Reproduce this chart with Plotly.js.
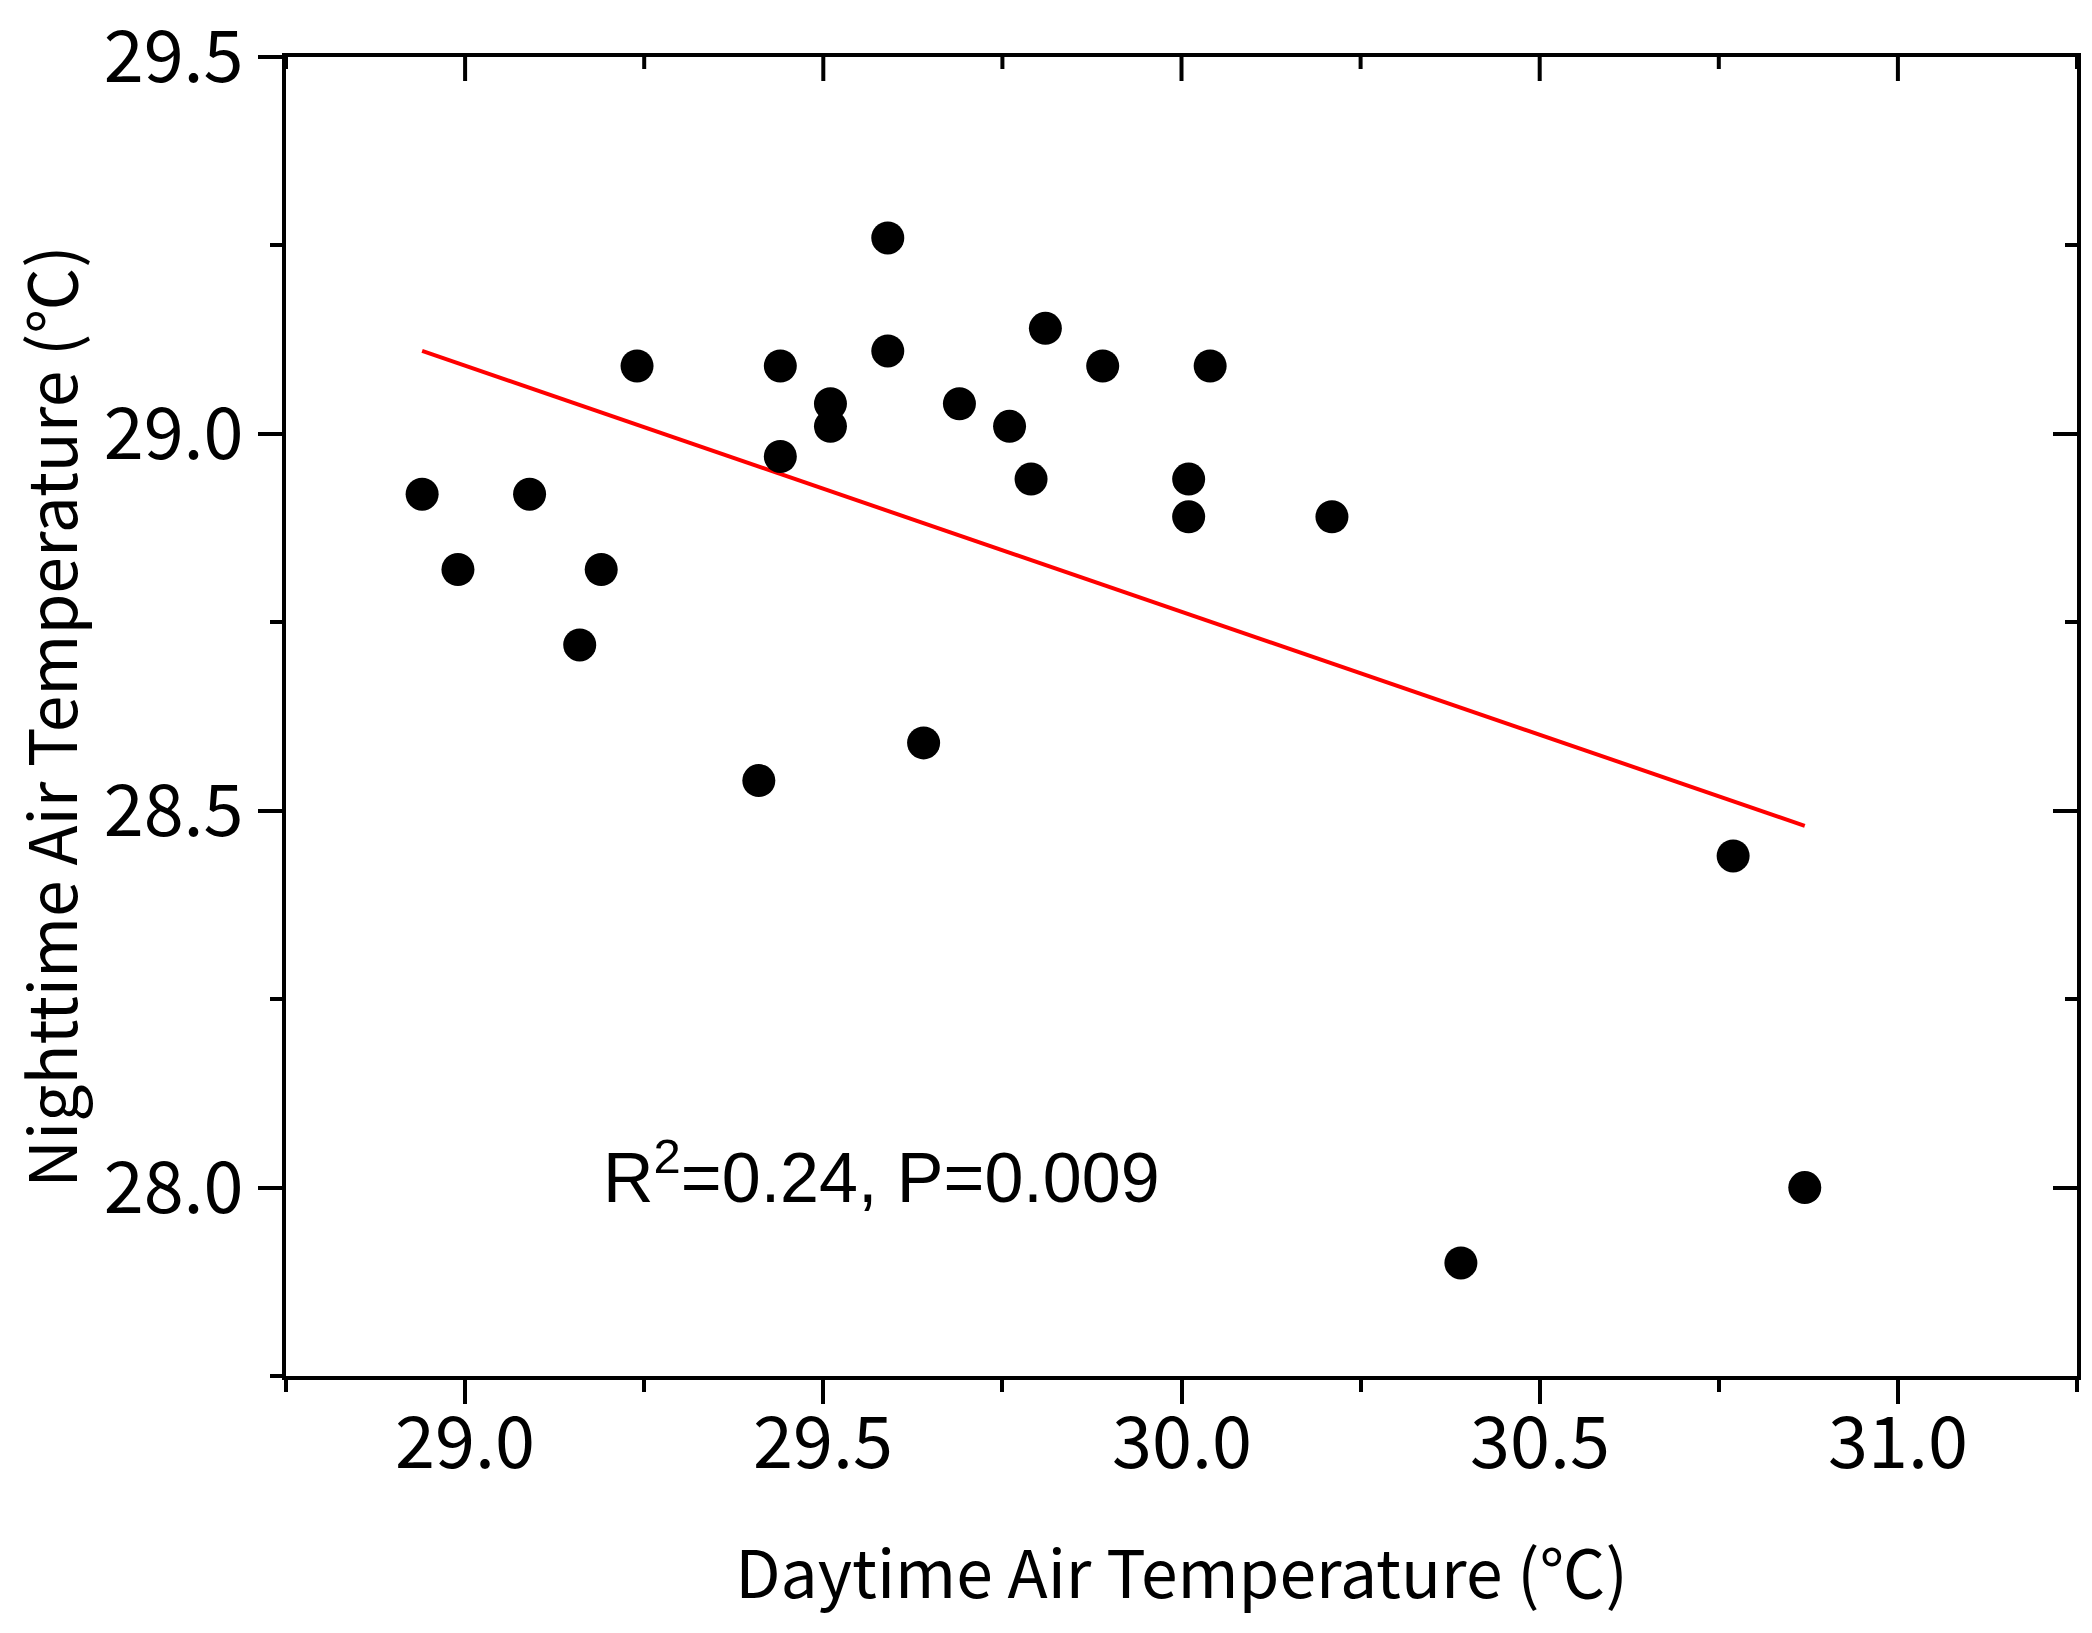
<!DOCTYPE html>
<html>
<head>
<meta charset="utf-8">
<script src="https://cdn.plot.ly/plotly-3.0.1.min.js"></script>
<style>
  html, body { margin: 0; padding: 0; background: #fff; }
  #chart { width: 2092px; height: 1633px; }
</style>
</head>
<body>
<div id="chart"></div>
<script>
"use strict";

// values
var dayTemp = [28.94, 28.99, 29.09, 29.19, 29.16, 29.24, 29.41, 29.44, 29.44, 29.51,
               29.51, 29.59, 29.59, 29.64, 29.69, 29.76, 29.79, 29.81, 29.89, 30.01,
               30.01, 30.04, 30.21, 30.39, 30.77, 30.87];
var nightTemp = [28.92, 28.82, 28.92, 28.82, 28.72, 29.09, 28.54, 29.09, 28.97, 29.04,
                 29.01, 29.26, 29.11, 28.59, 29.04, 29.01, 28.94, 29.14, 29.09, 28.94,
                 28.89, 29.09, 28.89, 27.90, 28.44, 28.00];

// ends of the fitted line
var fitX = [28.94, 30.87];
var fitY = [29.11, 28.48];

var xTicks = [29.0, 29.5, 30.0, 30.5, 31.0];
var xMinorTicks = [28.75, 29.25, 29.75, 30.25, 30.75, 31.25];
var yTicks = [28.0, 28.5, 29.0, 29.5];
var statText = "R<sup>2</sup>=0.24, P=0.009";

var tickFont = { family: "Noto Sans CJK KR, Noto Sans, sans-serif", size: 72, color: "#000" };
var titleFont = { family: "Noto Sans CJK KR, Noto Sans, sans-serif", size: 66, color: "#000" };

var xRange = [28.75, 31.25];
var yRange = [27.75, 29.5];

var data = [
    {
        x: fitX,
        y: fitY,
        type: "scatter",
        mode: "lines",
        line: { color: "#ff0000", width: 4 },
        hoverinfo: "skip"
    },
    {
        x: dayTemp,
        y: nightTemp,
        type: "scatter",
        mode: "markers",
        marker: { color: "#000", size: 33 }
    },
    // invisible copy on a see-through second subplot: right tick axis
    {
        x: fitX,
        y: fitY,
        xaxis: "x2",
        yaxis: "y2",
        type: "scatter",
        mode: "markers",
        marker: { opacity: 0 },
        hoverinfo: "skip"
    }
];

// x tick labels as annotations so they sit as close to the axis as in the original
var annotations = xTicks.map(function (v) {
    return {
        x: v,
        y: 0,
        xref: "x",
        yref: "paper",
        yanchor: "middle",
        yshift: -60,
        text: v.toFixed(1),
        showarrow: false,
        font: tickFont
    };
});
annotations.push({
    x: 29.19,
    y: 28.02,
    xref: "x",
    yref: "y",
    xanchor: "left",
    yanchor: "middle",
    text: statText,
    showarrow: false,
    font: { family: "Liberation Sans, Arial, sans-serif", size: 70, color: "#000" }
});

// inward ticks hanging from the top edge of the frame
function topTick(v, len) {
    return {
        type: "line",
        xref: "x",
        yref: "paper",
        ysizemode: "pixel",
        yanchor: 1,
        x0: v,
        x1: v,
        y0: 0,
        y1: -len,
        line: { color: "#000", width: 4 }
    };
}
var shapes = xTicks.map(function (v) { return topTick(v, 24); })
    .concat(xMinorTicks.map(function (v) { return topTick(v, 12); }));

var layout = {
    width: 2092,
    height: 1633,
    margin: { l: 286, r: 15, t: 57, b: 257 },
    paper_bgcolor: "#fff",
    plot_bgcolor: "rgba(0,0,0,0)",
    showlegend: false,
    xaxis: {
        domain: [0, 1],
        range: xRange,
        tickvals: xTicks,
        showticklabels: false,
        ticks: "outside",
        ticklen: 24,
        tickwidth: 4,
        tickcolor: "#000",
        minor: { tickvals: xMinorTicks, ticks: "outside", ticklen: 12, tickwidth: 4, tickcolor: "#000" },
        showline: true,
        linewidth: 4,
        linecolor: "#000",
        mirror: true,
        showgrid: false,
        zeroline: false,
        title: { text: "Daytime Air Temperature (℃)", font: titleFont, standoff: 150 }
    },
    yaxis: {
        domain: [0, 1],
        range: yRange,
        tickvals: yTicks,
        ticktext: yTicks.map(function (v) { return v.toFixed(1); }),
        ticks: "outside",
        ticklen: 24,
        tickwidth: 4,
        tickcolor: "#000",
        ticklabeloverflow: "allow",
        minor: { dtick: 0.25, tick0: 27.75, ticks: "outside", ticklen: 12, tickwidth: 4, tickcolor: "#000" },
        showline: true,
        linewidth: 4,
        linecolor: "#000",
        mirror: true,
        showgrid: false,
        zeroline: false,
        tickfont: tickFont,
        title: { text: "Nighttime Air Temperature (℃)", font: titleFont, standoff: 34 }
    },
    xaxis2: {
        domain: [0, 1],
        anchor: "y2",
        range: xRange,
        ticks: "",
        showticklabels: false,
        showline: false,
        showgrid: false,
        zeroline: false
    },
    yaxis2: {
        domain: [0, 1],
        anchor: "free",
        position: 1,
        side: "right",
        range: yRange,
        tickvals: yTicks,
        ticks: "inside",
        ticklen: 24,
        tickwidth: 4,
        tickcolor: "#000",
        minor: { dtick: 0.25, tick0: 27.75, ticks: "inside", ticklen: 12, tickwidth: 4, tickcolor: "#000" },
        showticklabels: false,
        showline: false,
        showgrid: false,
        zeroline: false
    },
    shapes: shapes,
    annotations: annotations
};

Plotly.newPlot("chart", data, layout, { displayModeBar: false, staticPlot: true });
</script>
</body>
</html>
